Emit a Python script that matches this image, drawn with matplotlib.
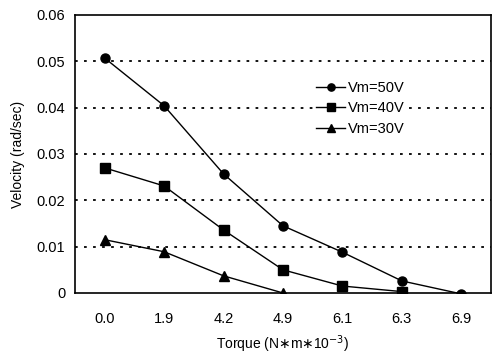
import matplotlib
matplotlib.use("Agg")
import matplotlib.pyplot as plt

torque_labels = ["0.0", "1.9", "4.2", "4.9", "6.1", "6.3", "6.9"]
v50 = [0.0507, 0.0404, 0.0257, 0.0145, 0.0088, 0.0026, -0.0002]
v40 = [0.0270, 0.0231, 0.0136, 0.0050, 0.0015, 0.0003]
v30 = [0.0115, 0.0089, 0.0037, 0.0000]
yticks = [0, 0.01, 0.02, 0.03, 0.04, 0.05, 0.06]
yticklabels = ["0", "0.01", "0.02", "0.03", "0.04", "0.05", "0.06"]

plt.rcParams['font.family'] = ['Liberation Sans', 'DejaVu Sans']

fig = plt.figure(figsize=(4.93, 3.56), dpi=100)
ax = fig.add_axes([0.152, 0.177, 0.844, 0.781])

for y in yticks[1:-1]:
    ax.axhline(y, color='black', linestyle=(0, (1.5, 3.5)), linewidth=1.3, zorder=1)

ax.plot(range(len(v50)), v50, '-o', color='black', ms=6.5, lw=1, label='Vm=50V', zorder=3)
ax.plot(range(len(v40)), v40, '-s', color='black', ms=6.5, lw=1, label='Vm=40V', zorder=3)
ax.plot(range(len(v30)), v30, '-^', color='black', ms=6.5, lw=1, label='Vm=30V', zorder=3)

ax.set_xlim(-0.5, 6.5)
ax.set_ylim(0, 0.06)
ax.set_xticks(range(len(torque_labels)))
ax.set_xticklabels(torque_labels)
ax.set_yticks(yticks)
ax.set_yticklabels(yticklabels)
ax.tick_params(length=0, labelsize=10.5, pad=7)
ax.tick_params(axis='x', pad=14)
for s in ax.spines.values():
    s.set_linewidth(1.2)

ax.set_ylabel("Velocity (rad/sec)", fontsize=10, labelpad=8)
ax.set_xlabel(r"Torque (N$\ast$m$\ast$10$^{-3}$)", fontsize=10, labelpad=5)

leg = ax.legend(loc='upper left', bbox_to_anchor=(0.555, 0.80), frameon=True,
                fontsize=10.5, handlelength=2.0, handletextpad=0.2,
                labelspacing=0.45, borderpad=0.2, markerscale=0.8)
leg.get_frame().set_edgecolor('none')
leg.get_frame().set_facecolor('white')
leg.get_frame().set_alpha(1)
leg.set_zorder(5)

fig.savefig("out.png", dpi=100)
